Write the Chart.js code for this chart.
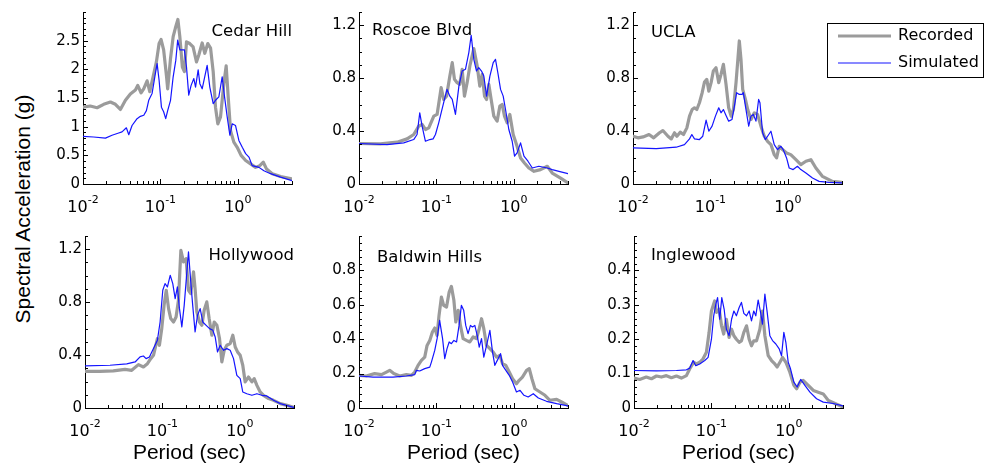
<!DOCTYPE html>
<html>
<head>
<meta charset="utf-8">
<script src="https://cdn.jsdelivr.net/npm/chart.js@4.4.1/dist/chart.umd.min.js"></script>
<style>
  body { margin: 0; width: 985px; height: 471px; background: #fff; position: relative; overflow: hidden; }
  canvas { position: absolute; }
  #ytitle {
    position: absolute; left: 23px; top: 209px;
    transform: translate(-50%, -50%) rotate(-90deg);
    font: 21px "Liberation Sans", Arial, sans-serif; white-space: nowrap; color: #000;
  }
</style>
</head>
<body>
<div id="ytitle">Spectral Acceleration (g)</div>
<script>
// spectral acceleration (g) against period (sec), pairs of [T, Sa]
const cedarHillRec = [[0.0100,1.34],[0.0124,1.36],[0.0152,1.33],[0.0185,1.39],[0.0226,1.43],[0.0262,1.39],[0.0304,1.30],[0.0353,1.46],[0.0409,1.57],[0.0475,1.64],[0.0509,1.72],[0.0562,1.59],[0.0608,1.66],[0.0673,1.80],[0.0728,1.61],[0.0804,1.87],[0.0887,2.13],[0.0961,2.45],[0.102,2.52],[0.110,2.34],[0.120,1.87],[0.124,1.66],[0.135,2.19],[0.146,2.57],[0.156,2.72],[0.168,2.87],[0.178,2.57],[0.192,2.04],[0.204,1.96],[0.217,2.48],[0.239,2.45],[0.264,2.39],[0.292,2.13],[0.313,2.25],[0.346,2.46],[0.374,2.28],[0.409,2.45],[0.444,2.37],[0.480,1.96],[0.514,1.34],[0.551,1.05],[0.597,1.17],[0.659,1.75],[0.706,2.06],[0.750,1.52],[0.804,0.93],[0.887,0.73],[0.980,0.64],[1.10,0.50],[1.26,0.41],[1.46,0.35],[1.69,0.29],[1.92,0.32],[2.13,0.38],[2.35,0.26],[2.78,0.18],[3.57,0.13],[5.0,0.09]];
const cedarHillSim = [[0.0100,0.83],[0.0137,0.82],[0.0195,0.80],[0.0237,0.85],[0.0289,0.89],[0.0319,0.91],[0.0363,0.98],[0.0390,0.86],[0.0430,1.02],[0.0499,1.14],[0.0551,1.18],[0.0609,1.20],[0.0659,1.28],[0.0706,1.46],[0.0780,1.58],[0.0861,1.93],[0.0906,2.10],[0.0961,1.81],[0.103,1.34],[0.110,1.26],[0.117,1.14],[0.124,1.28],[0.135,1.46],[0.146,1.87],[0.158,2.16],[0.167,2.51],[0.178,2.34],[0.191,2.34],[0.204,2.34],[0.217,2.04],[0.232,1.55],[0.249,1.72],[0.270,1.84],[0.284,1.69],[0.307,1.99],[0.323,1.75],[0.346,1.66],[0.401,2.07],[0.434,1.69],[0.480,1.40],[0.514,1.46],[0.568,1.52],[0.627,1.87],[0.673,1.52],[0.728,1.17],[0.788,0.85],[0.845,1.05],[0.933,1.02],[1.03,0.76],[1.14,0.64],[1.26,0.53],[1.39,0.47],[1.53,0.32],[1.87,0.29],[2.17,0.23],[2.64,0.18],[3.56,0.12],[5.0,0.06]];

const roscoeRec = [[0.0100,0.306],[0.0189,0.303],[0.0310,0.316],[0.0418,0.341],[0.0509,0.374],[0.0591,0.437],[0.0653,0.450],[0.0721,0.412],[0.0796,0.424],[0.0925,0.513],[0.102,0.526],[0.115,0.728],[0.124,0.639],[0.135,0.664],[0.149,0.816],[0.160,0.917],[0.171,0.791],[0.185,0.766],[0.200,0.753],[0.215,0.867],[0.230,0.664],[0.249,0.766],[0.270,0.892],[0.289,0.968],[0.304,1.023],[0.336,0.892],[0.363,0.740],[0.390,0.829],[0.418,0.664],[0.444,0.639],[0.475,0.753],[0.509,0.639],[0.551,0.513],[0.608,0.475],[0.659,0.589],[0.706,0.601],[0.757,0.513],[0.820,0.462],[0.887,0.526],[0.980,0.374],[1.10,0.285],[1.22,0.197],[1.37,0.159],[1.56,0.121],[1.82,0.096],[2.21,0.109],[2.70,0.134],[3.13,0.083],[4.01,0.045],[5.0,0.008]];
const roscoeSim = [[0.0100,0.306],[0.0230,0.298],[0.0378,0.311],[0.0509,0.336],[0.0562,0.374],[0.0609,0.538],[0.0653,0.437],[0.0721,0.323],[0.0820,0.336],[0.0906,0.341],[0.0971,0.374],[0.107,0.462],[0.115,0.538],[0.127,0.639],[0.137,0.715],[0.149,0.664],[0.160,0.639],[0.176,0.526],[0.195,0.740],[0.215,0.854],[0.237,0.867],[0.262,0.993],[0.281,1.124],[0.304,0.942],[0.329,0.854],[0.352,0.879],[0.382,0.854],[0.409,0.816],[0.444,0.664],[0.490,0.816],[0.541,0.917],[0.579,0.942],[0.621,0.841],[0.673,0.715],[0.728,0.664],[0.780,0.563],[0.861,0.412],[0.951,0.323],[1.02,0.210],[1.10,0.235],[1.22,0.311],[1.35,0.210],[1.52,0.172],[1.73,0.121],[2.10,0.134],[2.70,0.121],[3.13,0.109],[3.82,0.096],[5.0,0.078]];

const uclaRec = [[0.0100,0.361],[0.0116,0.349],[0.0135,0.356],[0.0161,0.374],[0.0185,0.349],[0.0220,0.387],[0.0243,0.404],[0.0283,0.361],[0.0312,0.341],[0.0344,0.387],[0.0369,0.361],[0.0407,0.392],[0.0449,0.374],[0.0496,0.424],[0.0537,0.513],[0.0581,0.563],[0.0622,0.576],[0.0667,0.563],[0.0721,0.614],[0.0782,0.690],[0.0838,0.771],[0.0897,0.791],[0.0953,0.702],[0.102,0.766],[0.109,0.854],[0.118,0.879],[0.128,0.766],[0.137,0.829],[0.147,0.905],[0.159,0.753],[0.172,0.576],[0.185,0.513],[0.198,0.563],[0.214,0.766],[0.227,0.955],[0.236,1.081],[0.248,0.942],[0.261,0.715],[0.283,0.639],[0.303,0.563],[0.334,0.488],[0.369,0.538],[0.406,0.526],[0.449,0.437],[0.496,0.361],[0.547,0.323],[0.604,0.298],[0.667,0.222],[0.715,0.197],[0.773,0.285],[0.853,0.260],[0.962,0.235],[1.09,0.222],[1.27,0.184],[1.47,0.147],[1.71,0.172],[1.98,0.184],[2.30,0.121],[2.79,0.058],[3.76,0.020],[5.0,0.013]];
const uclaSim = [[0.0100,0.273],[0.0200,0.268],[0.0361,0.278],[0.0462,0.298],[0.0537,0.341],[0.0575,0.374],[0.0622,0.341],[0.0721,0.336],[0.0796,0.361],[0.0879,0.483],[0.0953,0.399],[0.105,0.437],[0.116,0.513],[0.128,0.576],[0.137,0.538],[0.147,0.563],[0.159,0.518],[0.172,0.475],[0.190,0.488],[0.204,0.589],[0.218,0.690],[0.236,0.677],[0.256,0.677],[0.266,0.690],[0.283,0.589],[0.312,0.437],[0.334,0.513],[0.358,0.526],[0.387,0.475],[0.419,0.639],[0.436,0.614],[0.472,0.387],[0.511,0.336],[0.547,0.361],[0.604,0.399],[0.667,0.298],[0.736,0.260],[0.813,0.285],[0.871,0.260],[0.962,0.197],[1.04,0.121],[1.17,0.109],[1.33,0.134],[1.47,0.109],[1.71,0.083],[2.08,0.045],[2.53,0.020],[3.40,0.013],[5.0,0.008]];

const hollywoodRec = [[0.0100,0.277],[0.0156,0.277],[0.0232,0.280],[0.0329,0.292],[0.0401,0.285],[0.0490,0.328],[0.0568,0.310],[0.0640,0.335],[0.0706,0.373],[0.0766,0.398],[0.0861,0.524],[0.0914,0.474],[0.0980,0.600],[0.105,0.776],[0.112,0.890],[0.120,0.751],[0.128,0.676],[0.139,0.650],[0.150,0.688],[0.161,0.814],[0.173,1.192],[0.187,1.104],[0.202,1.129],[0.217,0.890],[0.232,0.865],[0.252,1.029],[0.264,0.902],[0.278,0.726],[0.301,0.650],[0.323,0.625],[0.346,0.739],[0.374,0.802],[0.401,0.676],[0.435,0.550],[0.466,0.650],[0.505,0.625],[0.546,0.524],[0.585,0.348],[0.627,0.436],[0.679,0.474],[0.750,0.487],[0.811,0.550],[0.871,0.461],[0.933,0.424],[1.01,0.398],[1.09,0.323],[1.17,0.197],[1.29,0.234],[1.43,0.197],[1.53,0.222],[1.66,0.171],[1.83,0.121],[2.02,0.096],[2.35,0.071],[2.72,0.058],[3.33,0.033],[4.06,0.020],[4.94,0.005]];
const hollywoodSim = [[0.0100,0.318],[0.0210,0.323],[0.0346,0.333],[0.0444,0.348],[0.0514,0.386],[0.0568,0.393],[0.0615,0.373],[0.0679,0.386],[0.0766,0.449],[0.0861,0.512],[0.0933,0.650],[0.101,0.890],[0.108,0.940],[0.116,0.915],[0.126,1.003],[0.136,0.940],[0.146,0.827],[0.156,0.915],[0.166,0.751],[0.178,0.613],[0.191,0.776],[0.202,0.953],[0.217,1.180],[0.232,0.953],[0.247,0.764],[0.264,0.575],[0.284,0.701],[0.307,0.751],[0.332,0.650],[0.367,0.625],[0.406,0.600],[0.448,0.587],[0.480,0.537],[0.514,0.424],[0.557,0.474],[0.615,0.436],[0.679,0.449],[0.750,0.436],[0.828,0.373],[0.914,0.247],[1.01,0.222],[1.09,0.121],[1.23,0.108],[1.43,0.096],[1.66,0.108],[1.92,0.096],[2.23,0.091],[2.72,0.058],[3.33,0.033],[4.94,0.005]];

const baldwinRec = [[0.0100,0.190],[0.0124,0.186],[0.0159,0.200],[0.0195,0.194],[0.0226,0.209],[0.0249,0.219],[0.0281,0.200],[0.0336,0.186],[0.0409,0.194],[0.0475,0.190],[0.0525,0.209],[0.0579,0.248],[0.0640,0.277],[0.0706,0.296],[0.0757,0.364],[0.0820,0.393],[0.0887,0.442],[0.0951,0.465],[0.102,0.422],[0.108,0.538],[0.116,0.645],[0.124,0.597],[0.135,0.587],[0.146,0.674],[0.156,0.707],[0.168,0.626],[0.178,0.500],[0.191,0.568],[0.204,0.480],[0.221,0.403],[0.244,0.393],[0.270,0.384],[0.298,0.413],[0.329,0.403],[0.357,0.461],[0.382,0.519],[0.409,0.461],[0.444,0.364],[0.490,0.345],[0.541,0.325],[0.597,0.296],[0.659,0.306],[0.713,0.258],[0.788,0.248],[0.871,0.209],[0.962,0.170],[1.08,0.141],[1.17,0.161],[1.29,0.180],[1.46,0.219],[1.58,0.229],[1.71,0.170],[1.87,0.112],[2.17,0.093],[2.52,0.074],[2.92,0.045],[3.57,0.050],[4.13,0.035],[4.99,0.015]];
const baldwinSim = [[0.0100,0.186],[0.0152,0.180],[0.0275,0.180],[0.0409,0.186],[0.0525,0.194],[0.0551,0.219],[0.0608,0.215],[0.0706,0.229],[0.0820,0.238],[0.0861,0.267],[0.0951,0.335],[0.102,0.403],[0.110,0.509],[0.120,0.403],[0.128,0.287],[0.137,0.345],[0.146,0.384],[0.156,0.374],[0.168,0.393],[0.182,0.384],[0.196,0.480],[0.210,0.597],[0.225,0.568],[0.239,0.480],[0.256,0.432],[0.275,0.480],[0.292,0.471],[0.313,0.480],[0.336,0.422],[0.357,0.354],[0.382,0.403],[0.409,0.296],[0.444,0.364],[0.490,0.451],[0.530,0.325],[0.568,0.248],[0.627,0.287],[0.673,0.316],[0.713,0.248],[0.788,0.219],[0.871,0.190],[0.962,0.151],[1.08,0.093],[1.20,0.103],[1.35,0.074],[1.53,0.064],[1.78,0.083],[2.07,0.058],[2.64,0.039],[3.57,0.025],[4.99,0.012]];

const inglewoodRec = [[0.0100,0.087],[0.0118,0.083],[0.0144,0.090],[0.0168,0.085],[0.0195,0.093],[0.0226,0.090],[0.0262,0.094],[0.0304,0.088],[0.0353,0.093],[0.0409,0.087],[0.0475,0.094],[0.0525,0.114],[0.0591,0.133],[0.0640,0.128],[0.0706,0.133],[0.0780,0.143],[0.0861,0.162],[0.0933,0.220],[0.100,0.282],[0.110,0.311],[0.116,0.278],[0.126,0.287],[0.135,0.239],[0.144,0.215],[0.156,0.258],[0.169,0.205],[0.182,0.229],[0.195,0.210],[0.210,0.200],[0.228,0.191],[0.244,0.195],[0.262,0.220],[0.284,0.239],[0.307,0.200],[0.329,0.181],[0.352,0.195],[0.382,0.195],[0.422,0.229],[0.456,0.282],[0.490,0.210],[0.541,0.152],[0.597,0.138],[0.659,0.128],[0.706,0.119],[0.766,0.133],[0.828,0.147],[0.914,0.133],[1.03,0.104],[1.16,0.066],[1.26,0.056],[1.39,0.075],[1.53,0.080],[1.78,0.066],[2.07,0.051],[2.39,0.046],[2.78,0.041],[3.23,0.022],[3.94,0.013],[4.99,0.003]];
const inglewoodSim = [[0.0100,0.109],[0.0195,0.108],[0.0353,0.109],[0.0475,0.111],[0.0525,0.116],[0.0579,0.138],[0.0627,0.123],[0.0706,0.128],[0.0820,0.138],[0.0906,0.147],[0.100,0.200],[0.107,0.268],[0.114,0.302],[0.120,0.321],[0.128,0.258],[0.136,0.321],[0.146,0.287],[0.156,0.229],[0.169,0.210],[0.182,0.258],[0.195,0.282],[0.210,0.268],[0.228,0.292],[0.244,0.307],[0.262,0.275],[0.284,0.268],[0.307,0.282],[0.329,0.253],[0.352,0.282],[0.374,0.268],[0.401,0.314],[0.431,0.278],[0.456,0.244],[0.490,0.331],[0.525,0.278],[0.568,0.210],[0.615,0.196],[0.679,0.186],[0.750,0.172],[0.804,0.152],[0.861,0.220],[0.914,0.191],[0.980,0.133],[1.05,0.114],[1.16,0.075],[1.28,0.061],[1.42,0.083],[1.61,0.066],[1.87,0.046],[2.28,0.027],[2.78,0.017],[3.74,0.013],[4.99,0.006]];

// tick labels
const periodTicks = [0.01, 0.1, 1];
const ticksHalfStep = [0, 0.5, 1, 1.5, 2, 2.5];
const ticks04 = [0, 0.4, 0.8, 1.2];
const ticks02 = [0, 0.2, 0.4, 0.6, 0.8];
const ticks01 = [0, 0.1, 0.2, 0.3, 0.4];

const REC_COLOR = 'rgb(155,155,155)';
const SIM_COLOR = 'rgb(20,20,255)';
const FONT = '"DejaVu Sans", sans-serif';

const PLOT_W = 209, PLOT_H = 172, Y_AXIS_W = 60, PAD_TOP = 12;

const panels = [
  { name: 'Cedar Hill',    rec: cedarHillRec, sim: cedarHillSim, yMax: 3.0, yTicks: ticksHalfStep, yMinor: 0.1,  left: 83,  top: 12,  align: 'right', dx: 0,  dy: 20 },
  { name: 'Roscoe Blvd',   rec: roscoeRec,    sim: roscoeSim,    yMax: 1.3, yTicks: ticks04,       yMinor: 0.1,  left: 359, top: 12,  align: 'left',  dx: 13, dy: 19 },
  { name: 'UCLA',          rec: uclaRec,      sim: uclaSim,      yMax: 1.3, yTicks: ticks04,       yMinor: 0.1,  left: 633, top: 12,  align: 'left',  dx: 18, dy: 21, legend: true },
  { name: 'Hollywood',     rec: hollywoodRec, sim: hollywoodSim, yMax: 1.3, yTicks: ticks04,       yMinor: 0.1,  left: 85,  top: 236, align: 'right', dx: 0,  dy: 20 },
  { name: 'Baldwin Hills', rec: baldwinRec,   sim: baldwinSim,   yMax: 1.0, yTicks: ticks02,       yMinor: 0.04, left: 359, top: 236, align: 'left',  dx: 18, dy: 22 },
  { name: 'Inglewood',     rec: inglewoodRec, sim: inglewoodSim, yMax: 0.5, yTicks: ticks01,       yMinor: 0.02, left: 634, top: 236, align: 'left',  dx: 17, dy: 20 },
];

// inward ticks, 10^n labels, station name and the legend box
const decor = {
  id: 'decor',
  afterDraw(chart, args, opts) {
    const { ctx, chartArea: a, scales: { x, y } } = chart;
    ctx.save();
    ctx.strokeStyle = '#000';
    ctx.lineWidth = 1;
    ctx.beginPath();
    for (let e = -2; e <= 0; e++) {
      for (let m = 1; m <= 9; m++) {
        const v = m * Math.pow(10, e);
        if (v > x.max) break;
        const px = Math.round(x.getPixelForValue(v)) + 0.5;
        ctx.moveTo(px, a.bottom);
        ctx.lineTo(px, a.bottom - (m === 1 ? 5 : 3));
      }
    }
    const n = Math.floor(y.max / opts.yMinor + 1e-6);
    for (let i = 0; i <= n; i++) {
      const v = i * opts.yMinor;
      const py = Math.round(y.getPixelForValue(v)) + 0.5;
      const major = opts.yTicks.some(t => Math.abs(t - v) < 1e-6);
      ctx.moveTo(a.left, py);
      ctx.lineTo(a.left + (major ? 5 : 3), py);
    }
    ctx.stroke();

    ctx.fillStyle = '#000';
    ctx.textBaseline = 'alphabetic';
    ctx.textAlign = 'left';
    periodTicks.forEach(v => {
      const exp = String(Math.round(Math.log10(v)));
      ctx.font = '16px ' + FONT;
      const wb = ctx.measureText('10').width;
      ctx.font = '11px ' + FONT;
      const we = ctx.measureText(exp).width;
      const lx = x.getPixelForValue(v) - (wb + we) / 2;
      ctx.font = '16px ' + FONT;
      ctx.fillText('10', lx, a.bottom + 28);
      ctx.font = '11px ' + FONT;
      ctx.fillText(exp, lx + wb, a.bottom + 19);
    });

    ctx.font = '16.5px ' + FONT;
    ctx.textBaseline = 'middle';
    ctx.textAlign = opts.align;
    const tx = opts.align === 'right' ? a.right + opts.dx : a.left + opts.dx;
    ctx.fillText(opts.name, tx, a.top + opts.dy);

    if (opts.legend) {
      const bx = a.left + 194, by = a.top + 11, bw = 156, bh = 54;
      ctx.fillStyle = '#fff';
      ctx.fillRect(bx, by, bw, bh);
      ctx.strokeStyle = '#000';
      ctx.lineWidth = 1;
      ctx.strokeRect(bx + 0.5, by + 0.5, bw, bh);
      ctx.textAlign = 'left';
      ctx.font = '16px ' + FONT;
      chart.data.datasets.forEach((ds, i) => {
        const ry = by + 13 + i * 27;
        ctx.strokeStyle = ds.borderColor;
        ctx.lineWidth = ds.borderWidth;
        ctx.beginPath();
        ctx.moveTo(bx + 11, ry);
        ctx.lineTo(bx + 64, ry);
        ctx.stroke();
        ctx.fillStyle = '#000';
        ctx.fillText(ds.label, bx + 71, ry);
      });
    }
    ctx.restore();
  }
};

Chart.defaults.font.family = FONT;
Chart.defaults.color = '#000';

panels.forEach((p, i) => {
  const bottomRow = i >= 3;
  const xAxisH = bottomRow ? 471 - p.top - PLOT_H : 40;
  const rightPad = p.legend ? 985 - p.left - PLOT_W : 12;
  const canvas = document.createElement('canvas');
  canvas.width = Y_AXIS_W + PLOT_W + rightPad;
  canvas.height = PAD_TOP + PLOT_H + xAxisH;
  canvas.style.left = (p.left - Y_AXIS_W) + 'px';
  canvas.style.top = (p.top - PAD_TOP) + 'px';
  document.body.appendChild(canvas);

  new Chart(canvas, {
    type: 'line',
    data: {
      datasets: [
        { label: 'Recorded', data: p.rec.map(([x, y]) => ({ x, y })), borderColor: REC_COLOR, borderWidth: 3.2, order: 1 },
        { label: 'Simulated', data: p.sim.map(([x, y]) => ({ x, y })), borderColor: SIM_COLOR, borderWidth: 1.2, order: 0 },
      ],
    },
    options: {
      responsive: false,
      animation: false,
      devicePixelRatio: 1,
      layout: { autoPadding: false, padding: { top: PAD_TOP, right: rightPad, left: 0, bottom: 0 } },
      elements: {
        point: { radius: 0 },
        line: { tension: 0, borderJoinStyle: 'round', borderCapStyle: 'round' },
      },
      plugins: {
        legend: { display: false },
        tooltip: { enabled: false },
        decor: { name: p.name, align: p.align, dx: p.dx, dy: p.dy, yTicks: p.yTicks, yMinor: p.yMinor, legend: !!p.legend },
      },
      scales: {
        x: {
          type: 'logarithmic',
          min: 0.01,
          max: 5,
          grid: { display: false, drawTicks: false },
          border: { color: '#000', width: 1 },
          ticks: { display: false },
          title: {
            display: bottomRow,
            text: 'Period (sec)',
            font: { family: '"Liberation Sans", Arial, sans-serif', size: 21 },
            padding: { top: 0, bottom: 5 },
          },
          afterBuildTicks: s => { s.ticks = periodTicks.map(v => ({ value: v })); },
          afterFit: s => { s.height = xAxisH; },
        },
        y: {
          min: 0,
          max: p.yMax,
          grid: { display: false, drawTicks: false },
          border: { color: '#000', width: 1 },
          ticks: {
            padding: 3,
            font: { size: 15 },
            callback: v => String(Number(v.toFixed(2))),
          },
          afterBuildTicks: s => { s.ticks = p.yTicks.map(v => ({ value: v })); },
          afterFit: s => { s.width = Y_AXIS_W; },
        },
      },
    },
    plugins: [decor],
  });
});
</script>
</body>
</html>
